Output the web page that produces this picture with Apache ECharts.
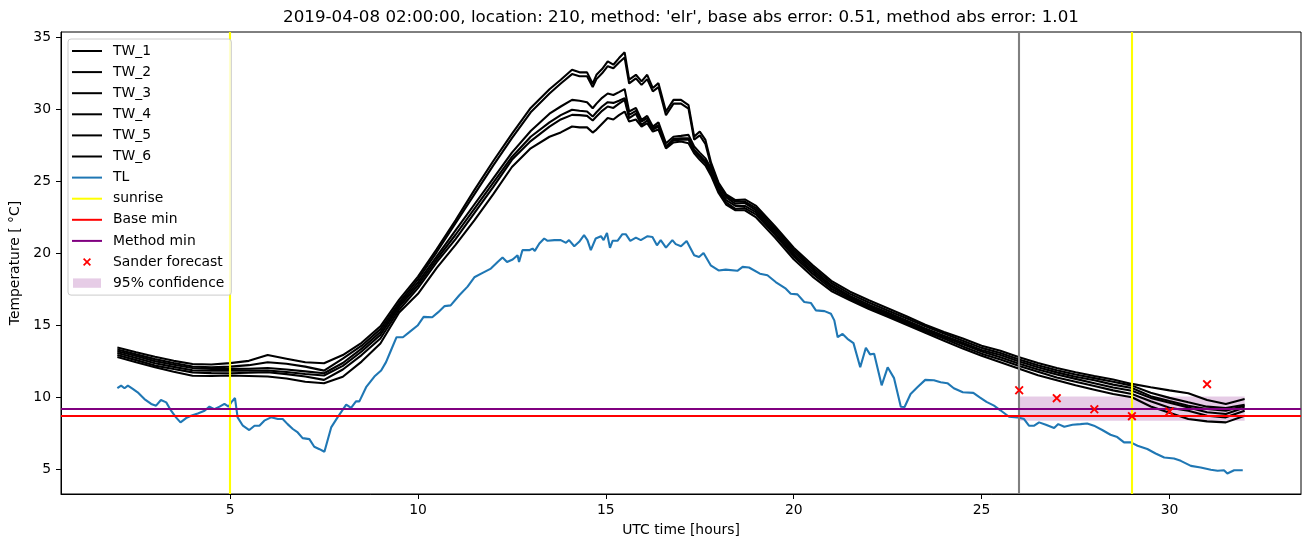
<!DOCTYPE html>
<html>
<head>
<meta charset="utf-8">
<script src="https://cdn.jsdelivr.net/npm/echarts@6/dist/echarts.min.js"></script>
<style>html,body{margin:0;padding:0;background:#fff}#chart{width:1310px;height:547px}</style>
</head>
<body>
<div id="chart"></div>
<script>
const titleText = "2019-04-08 02:00:00, location: 210, method: 'elr', base abs error: 0.51, method abs error: 1.01";
const xName = 'UTC time [hours]';
const yName = 'Temperature [ °C]';
const xTicks = [5, 10, 15, 20, 25, 30];
const yTicks = [5, 10, 15, 20, 25, 30, 35];

const twHours = [2, 2.5, 3, 3.5, 4, 4.5, 5, 5.5, 6, 6.5, 7, 7.5, 8, 8.5, 9, 9.5, 10, 10.5, 11, 11.5, 12, 12.5, 13, 13.5,
  13.8, 14.1, 14.3, 14.5, 14.65, 14.75, 14.9, 15.05, 15.2, 15.35, 15.5, 15.62, 15.8, 15.95, 16.1, 16.25, 16.4, 16.6, 16.8, 17.0, 17.2, 17.35, 17.5, 17.65, 17.8, 18.0, 18.2, 18.45, 18.7, 19.0,
  19.5, 20, 20.5, 21, 21.5, 22, 22.5, 23, 23.5, 24, 24.5, 25, 25.5, 26, 26.5, 27, 27.5, 28, 28.5, 29, 29.5, 30, 30.5, 31, 31.5, 32];

const tw1 = [13.48, 13.15, 12.83, 12.55, 12.33, 12.3, 12.39, 12.55, 12.95, 12.7, 12.45, 12.38,
  12.95, 13.8, 14.95, 16.8, 18.4, 20.3, 22.3, 24.4, 26.4, 28.3, 30.1, 31.4,
  32.06, 32.75, 32.57, 32.57, 31.78, 32.4, 32.8, 33.33, 33.1, 33.56, 33.96, 32.06, 32.4, 31.94, 32.4, 31.48, 31.82, 29.85, 30.66, 30.66, 30.3, 28.11, 28.46, 27.88, 26.3, 24.9, 24.1, 23.7, 23.75, 23.3,
  21.9, 20.4, 19.2, 18.1, 17.35, 16.75, 16.2, 15.65, 15.05, 14.55, 14.1, 13.6, 13.25, 12.8, 12.4, 12.05, 11.76, 11.5, 11.25, 10.95, 10.72, 10.5, 10.3, 9.83, 9.56, 9.9];
const tw2 = [13.34, 13.0, 12.67, 12.4, 12.16, 12.1, 12.15, 12.25, 12.45, 12.35, 12.15, 11.87,
  12.7, 13.6, 14.75, 16.6, 18.2, 20.1, 22.1, 24.1, 26.1, 28.0, 29.8, 31.1,
  31.8, 32.45, 32.3, 32.3, 31.55, 32.1, 32.5, 33.0, 32.85, 33.25, 33.6, 31.8, 32.15, 31.7, 32.1, 31.25, 31.55, 29.6, 30.4, 30.4, 30.05, 27.9, 28.2, 27.6, 26.1, 24.8, 24.0, 23.6, 23.6, 23.15,
  21.75, 20.25, 19.05, 17.95, 17.2, 16.6, 16.05, 15.5, 14.95, 14.45, 13.95, 13.45, 13.1, 12.65, 12.25, 11.9, 11.6, 11.35, 11.1, 10.83, 10.33, 9.98, 9.67, 9.37, 9.28, 9.5];
const tw3 = [13.22, 12.88, 12.53, 12.28, 12.05, 11.98, 11.99, 12.0, 12.05, 11.95, 11.82, 11.69,
  12.4, 13.4, 14.55, 16.45, 18.0, 19.8, 21.6, 23.4, 25.2, 27.0, 28.5, 29.7,
  30.2, 30.66, 30.6, 30.5, 30.08, 30.4, 30.8, 31.1, 31.0, 31.2, 31.41, 29.85, 30.1, 29.27, 29.55, 28.81, 29.1, 27.65, 28.1, 28.16, 28.23, 27.42, 27.0, 26.6, 25.9, 24.7, 23.9, 23.45, 23.5, 23.0,
  21.6, 20.1, 18.9, 17.8, 17.05, 16.45, 15.9, 15.35, 14.8, 14.3, 13.8, 13.3, 12.95, 12.5, 12.1, 11.75, 11.45, 11.2, 10.9, 10.67, 10.1, 9.76, 9.44, 9.21, 9.09, 9.44];
const tw4 = [13.1, 12.74, 12.38, 12.13, 11.9, 11.86, 11.88, 11.87, 11.88, 11.78, 11.64, 11.53,
  12.2, 13.2, 14.35, 16.3, 17.8, 19.6, 21.3, 23.1, 24.9, 26.7, 28.1, 29.1,
  29.6, 29.97, 29.9, 29.85, 29.5, 29.8, 30.2, 30.5, 30.45, 30.6, 30.78, 29.62, 29.9, 29.16, 29.39, 28.7, 28.9, 27.42, 27.95, 28.0, 28.0, 27.2, 26.8, 26.4, 25.7, 24.5, 23.7, 23.3, 23.3, 22.85,
  21.45, 19.95, 18.75, 17.7, 16.95, 16.35, 15.8, 15.25, 14.7, 14.2, 13.7, 13.2, 12.8, 12.35, 11.95, 11.6, 11.3, 11.0, 10.7, 10.48, 9.98, 9.64, 9.32, 8.98, 8.86, 9.32];
const tw5 = [12.96, 12.6, 12.22, 11.98, 11.75, 11.7, 11.69, 11.72, 11.76, 11.63, 11.46, 11.23,
  11.95, 12.95, 14.1, 16.1, 17.6, 19.4, 21.0, 22.8, 24.6, 26.5, 27.8, 28.8,
  29.3, 29.62, 29.6, 29.55, 29.23, 29.5, 29.9, 30.2, 30.1, 30.4, 30.66, 29.39, 29.7, 28.92, 29.23, 28.6, 28.8, 27.4, 27.85, 27.9, 27.9, 27.1, 26.7, 26.3, 25.6, 24.4, 23.55, 23.1, 23.15, 22.7,
  21.3, 19.8, 18.6, 17.55, 16.85, 16.25, 15.7, 15.15, 14.6, 14.1, 13.55, 13.05, 12.65, 12.2, 11.8, 11.4, 11.1, 10.8, 10.5, 10.25, 9.75, 9.3, 9.09, 8.74, 8.63, 9.09];
const tw6 = [12.82, 12.45, 12.1, 11.8, 11.52, 11.5, 11.53, 11.5, 11.46, 11.33, 11.1, 10.99,
  11.45, 12.5, 13.75, 15.9, 17.2, 19.0, 20.6, 22.3, 24.1, 26.0, 27.3, 28.1,
  28.4, 28.81, 28.75, 28.75, 28.39, 28.6, 29.0, 29.4, 29.3, 29.6, 29.85, 29.16, 29.3, 28.81, 29.04, 28.46, 28.6, 27.3, 27.7, 27.77, 27.65, 26.95, 26.5, 26.1, 25.4, 24.2, 23.4, 23.0, 23.0, 22.5,
  21.1, 19.6, 18.4, 17.4, 16.75, 16.15, 15.6, 15.05, 14.5, 13.95, 13.4, 12.9, 12.45, 12.0, 11.55, 11.2, 10.85, 10.55, 10.25, 10.02, 9.38, 8.95, 8.51, 8.35, 8.28, 8.74];

const tlHours = [2.0, 2.1, 2.19, 2.28, 2.41, 2.54, 2.72, 2.9, 3.03, 3.16, 3.3, 3.43, 3.56, 3.68, 3.83, 3.96, 4.14, 4.32, 4.45, 4.58, 4.72, 4.85, 4.96, 5.03, 5.13, 5.2, 5.34, 5.51, 5.65, 5.78, 5.91, 6.09, 6.27, 6.4, 6.53, 6.67, 6.8, 6.93, 7.11, 7.24, 7.38, 7.51, 7.69, 7.86, 8.09, 8.22, 8.35, 8.44, 8.62, 8.84, 9.02, 9.15, 9.28, 9.43, 9.6, 9.77, 9.99,
  10.15, 10.38, 10.54, 10.71, 10.87, 11.1, 11.32, 11.5, 11.72, 11.94, 12.12, 12.25, 12.37, 12.52, 12.65, 12.69, 12.78, 12.96, 13.05, 13.11, 13.23, 13.36, 13.45, 13.63, 13.8, 13.94, 14.02, 14.16, 14.29, 14.42, 14.51, 14.6, 14.73, 14.87, 14.94, 15.03, 15.11, 15.18, 15.31, 15.44, 15.53, 15.65, 15.8, 15.93,
  16.11, 16.24, 16.36, 16.46, 16.6, 16.77, 16.86, 17.0, 17.15, 17.35, 17.48, 17.6, 17.79, 18.0, 18.19, 18.5, 18.64, 18.81, 19.1, 19.3, 19.52, 19.79, 19.92, 20.1, 20.28, 20.46, 20.59, 20.82, 20.99, 21.08, 21.17, 21.3, 21.43, 21.59, 21.77, 21.92,
  22.03, 22.14, 22.34, 22.5, 22.67, 22.85, 22.95, 23.11, 23.29, 23.5, 23.73, 23.91, 24.09, 24.26, 24.5, 24.78, 24.95, 25.13, 25.33, 25.5, 25.73, 25.95, 26.13, 26.26, 26.4, 26.53, 26.71, 26.93, 27.04, 27.2, 27.42, 27.63, 27.81, 27.99,
  28.21, 28.43, 28.61, 28.79, 28.97, 29.15, 29.41, 29.63, 29.86, 30.12, 30.3, 30.57, 30.83, 31.1, 31.28, 31.45, 31.54, 31.72, 31.95];
const tlValues = [10.65, 10.83, 10.65, 10.83, 10.6, 10.37, 9.9, 9.56, 9.44, 9.83, 9.67, 9.09, 8.63, 8.28, 8.58, 8.74, 8.9, 9.09, 9.37, 9.2, 9.37, 9.56, 9.37, 9.67, 9.97, 8.63, 8.05, 7.75, 8.05, 8.05, 8.4, 8.63, 8.51, 8.51, 8.16, 7.82, 7.58, 7.19, 7.12, 6.59, 6.42, 6.24, 7.93, 8.63, 9.51, 9.28, 9.74, 9.74, 10.72, 11.46, 11.88, 12.46, 13.27, 14.19, 14.19, 14.54, 15.0,
  15.6, 15.58, 15.93, 16.35, 16.4, 17.1, 17.7, 18.35, 18.65, 18.95, 19.41, 19.72, 19.41, 19.58, 19.88, 19.41, 20.23, 20.23, 20.34, 20.18, 20.69, 21.04, 20.88, 20.93, 20.93, 20.74, 20.93, 20.5, 20.81, 21.27, 20.93, 20.23, 21.04, 21.2, 20.93, 21.43, 20.39, 20.88, 20.88, 21.34, 21.34, 20.88, 21.1, 20.93,
  21.2, 21.15, 20.57, 20.93, 20.41, 20.93, 20.65, 20.5, 20.87, 19.88, 19.76, 20.04, 19.18, 18.82, 18.88, 18.8, 19.07, 19.03, 18.6, 18.49, 18.02, 17.56, 17.21, 17.16, 16.63, 16.56, 16.05, 16.0, 15.82, 15.36, 14.19, 14.42, 14.08, 13.78, 12.11, 13.46,
  13.0, 13.04, 10.85, 12.1, 11.35, 9.37, 9.35, 10.25, 10.71, 11.23, 11.2, 11.06, 11.0, 10.65, 10.37, 10.33, 10.02, 9.7, 9.44, 9.12, 8.67, 8.63, 8.51, 8.05, 8.05, 8.28, 8.12, 7.89, 8.16, 7.98, 8.12, 8.16, 8.2, 8.05,
  7.75, 7.42, 7.26, 6.89, 6.89, 6.66, 6.43, 6.12, 5.84, 5.77, 5.61, 5.26, 5.15, 4.99, 4.92, 4.96, 4.73, 4.96, 4.96];

const sunriseHours = [5, 29];
const nowHour = 26;
const baseMin = 8.73;
const methodMin = 9.24;
const sanderHours = [26, 27, 28, 29, 30, 31];
const sanderValues = [10.51, 9.96, 9.19, 8.71, 9.03, 10.93];
const confFrom = 26;
const confTo = 32;
const confLow = 8.40;
const confHigh = 10.07;

const FONT = "'DejaVu Sans', sans-serif";
const LINE_ICON = 'path://M0,0M30,14M0,6L30,6L30,8L0,8Z';
const X_ICON = 'path://M0,0M30,14M12.2,3L15,5.8L17.8,3L19,4.2L16.2,7L19,9.8L17.8,11L15,8.2L12.2,11L11,9.8L13.8,7L11,4.2Z';
const RECT_ICON = 'path://M0,0M30,14M1,2.3L29,2.3L29,11.7L1,11.7Z';
const pairs = (xs, ys) => xs.map((x, i) => [x, ys[i]]);
const twList = [tw1, tw2, tw3, tw4, tw5, tw6];

const chart = echarts.init(document.getElementById('chart'), null, {renderer: 'canvas'});

const series = [];
twList.forEach((arr, i) => {
  series.push({
    name: 'TW_' + (i + 1), type: 'line', data: pairs(twHours, arr),
    symbol: 'none', showSymbol: false, color: '#000000',
    lineStyle: {color: '#000000', width: 2.1}, z: 2
  });
});
series.push({
  name: 'TL', type: 'line', data: pairs(tlHours, tlValues),
  symbol: 'none', showSymbol: false, color: '#1f77b4',
  lineStyle: {color: '#1f77b4', width: 2.1}, z: 3
});
const vline = (name, color, data) => ({
  name: name, type: 'line', data: [], symbol: 'none', color: color,
  lineStyle: {color: color, width: 2.1}, z: 4,
  markLine: {silent: true, symbol: ['none', 'none'], label: {show: false},
    lineStyle: {color: color, width: 2.1, type: 'solid', opacity: 1},
    emphasis: {disabled: true}, data: data}
});
series.push(vline('sunrise', '#ffff00', sunriseHours.map(h => ({xAxis: h}))));
series.push(vline('now', '#808080', [{xAxis: nowHour}]));
series.push(vline('Base min', '#ff0000', [{yAxis: baseMin}]));
series.push(vline('Method min', '#800080', [{yAxis: methodMin}]));
series.push({
  name: 'Sander forecast', type: 'scatter', data: pairs(sanderHours, sanderValues),
  symbol: 'path://M1.5,0L5,3.5L8.5,0L10,1.5L6.5,5L10,8.5L8.5,10L5,6.5L1.5,10L0,8.5L3.5,5L0,1.5Z',
  symbolSize: 9, color: '#ff0000', itemStyle: {color: '#ff0000', opacity: 1}, z: 5
});
series.push({
  name: '95% confidence', type: 'line', data: [], symbol: 'none', color: 'rgba(128,0,128,0.2)', z: 5,
  markArea: {silent: true, itemStyle: {color: 'rgba(128,0,128,0.2)', opacity: 1},
    data: [[{xAxis: confFrom, yAxis: confLow}, {xAxis: confTo, yAxis: confHigh}]]}
});

const option = {
  animation: false,
  backgroundColor: '#ffffff',
  textStyle: {fontFamily: FONT},
  grid: {left: 61, right: 9, top: 32, bottom: 53, show: true, borderColor: '#000', borderWidth: 1, backgroundColor: 'transparent'},
  graphic: [{
    type: 'text', x: 681, y: 18, z: 10,
    style: {text: titleText, x: 0, y: 0, fill: '#000', font: "16.7px 'DejaVu Sans'", align: 'center', verticalAlign: 'middle', textAlign: 'center', textVerticalAlign: 'middle'}
  }],
  xAxis: {
    type: 'value', min: 0.5, max: 33.5,
    name: xName, nameLocation: 'middle', nameGap: 29,
    nameTextStyle: {fontSize: 13.9, color: '#000', fontFamily: FONT},
    axisLine: {show: true, lineStyle: {color: '#000', width: 1}},
    axisTick: {show: true, length: 5, lineStyle: {color: '#000'}, customValues: xTicks},
    axisLabel: {show: true, margin: 9, fontSize: 13.9, color: '#000', fontFamily: FONT, customValues: xTicks},
    splitLine: {show: false}
  },
  yAxis: {
    type: 'value', min: 3.31, max: 35.37,
    name: yName, nameLocation: 'middle', nameGap: 34, nameRotate: 90,
    nameTextStyle: {fontSize: 13.9, color: '#000', fontFamily: FONT},
    axisLine: {show: true, lineStyle: {color: '#000', width: 1}},
    axisTick: {show: true, length: 5, lineStyle: {color: '#000'}, customValues: yTicks},
    axisLabel: {show: true, margin: 10, fontSize: 13.9, color: '#000', fontFamily: FONT, customValues: yTicks},
    splitLine: {show: false}
  },
  legend: {
    orient: 'vertical', left: 68, top: 39,
    padding: [5, 7, 5, 4], itemWidth: 30, itemHeight: 14, itemGap: 7.1,
    backgroundColor: 'rgba(255,255,255,0.8)', borderColor: '#cccccc', borderWidth: 1, borderRadius: 3,
    textStyle: {fontSize: 13.9, color: '#000', fontFamily: FONT, padding: [0, 0, 0, 6]},
    selectedMode: false, z: 20,
    data: [
      {name: 'TW_1', icon: LINE_ICON}, {name: 'TW_2', icon: LINE_ICON}, {name: 'TW_3', icon: LINE_ICON},
      {name: 'TW_4', icon: LINE_ICON}, {name: 'TW_5', icon: LINE_ICON}, {name: 'TW_6', icon: LINE_ICON},
      {name: 'TL', icon: LINE_ICON}, {name: 'sunrise', icon: LINE_ICON},
      {name: 'Base min', icon: LINE_ICON}, {name: 'Method min', icon: LINE_ICON},
      {name: 'Sander forecast', icon: X_ICON, itemStyle: {color: '#ff0000', opacity: 1}},
      {name: '95% confidence', icon: RECT_ICON, itemStyle: {color: 'rgba(128,0,128,0.2)'}}
    ]
  },
  series: series
};
chart.setOption(option);
</script>
</body>
</html>
